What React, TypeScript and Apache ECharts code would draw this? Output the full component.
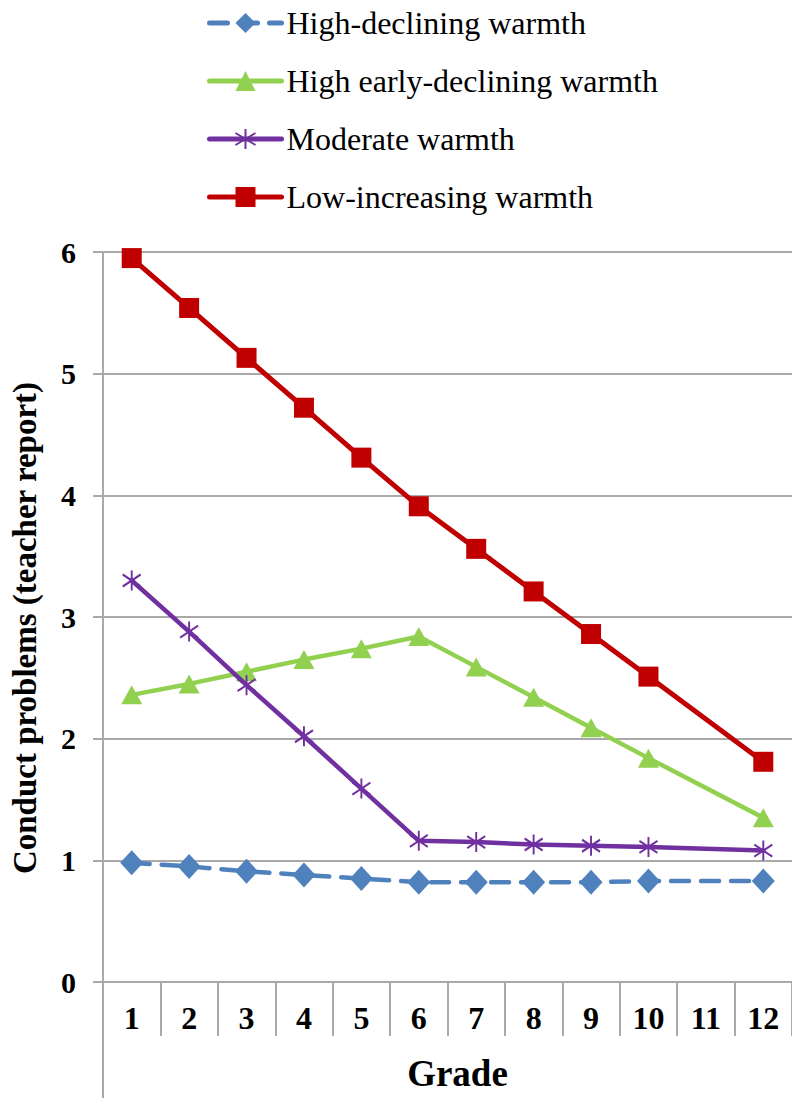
import React, { useEffect, useRef } from "react";
import * as echarts from "echarts";

const grades = ["1", "2", "3", "4", "5", "6", "7", "8", "9", "10", "11", "12"];
const highDeclining = [0.98, 0.95, 0.91, 0.88, 0.85, 0.82, 0.82, 0.82, 0.82, 0.83, null, 0.83];
const highEarlyDeclining = [2.36, 2.45, 2.55, 2.65, 2.74, 2.84, 2.59, 2.34, 2.09, 1.84, null, 1.35];
const moderate = [3.3, 2.88, 2.44, 2.02, 1.59, 1.16, 1.15, 1.13, 1.12, 1.11, null, 1.08];
const lowIncreasing = [5.95, 5.54, 5.13, 4.72, 4.31, 3.91, 3.56, 3.21, 2.86, 2.51, null, 1.81];
const seriesNames = [
  "High-declining warmth",
  "High early-declining warmth",
  "Moderate warmth",
  "Low-increasing warmth",
];

const FONT = "Liberation Serif";
const GRID_COLOR = "#A9A9A9";
const STAR = "path://M10,0L10,20M1.5,4L18.5,16M1.5,16L18.5,4";

export default function App() {
  const ref = useRef<HTMLDivElement>(null);
  useEffect(() => {
    document.body.style.margin = "0";
    const chart = echarts.init(ref.current!, null, { renderer: "svg" });
    chart.setOption({
      animation: false,
      backgroundColor: "#ffffff",
      legend: {
        orient: "vertical",
        left: 207,
        top: 7,
        padding: 0,
        itemWidth: 72,
        itemHeight: 25,
        itemGap: 26,
        lineStyle: { width: 5, cap: "round" },
        textStyle: { fontFamily: FONT, fontSize: 32, color: "#000" },
        data: seriesNames,
      },
      grid: { left: 103, top: 252, width: 696, height: 730, containLabel: false },
      xAxis: {
        type: "category",
        data: grades,
        boundaryGap: true,
        name: "Grade",
        nameLocation: "middle",
        nameGap: 73,
        nameTextStyle: { fontFamily: FONT, fontSize: 37, fontWeight: "bold", color: "#000", padding: [0, 0, 0, 20] },
        axisLine: { show: true, lineStyle: { color: GRID_COLOR, width: 2 } },
        axisTick: { show: true, length: 54, interval: 0, lineStyle: { color: GRID_COLOR, width: 2 } },
        axisLabel: { interval: 0, margin: 20, fontFamily: FONT, fontSize: 32, fontWeight: "bold", color: "#000" },
        splitLine: { show: false },
      },
      yAxis: {
        type: "value",
        min: 0,
        max: 6,
        interval: 1,
        name: "Conduct problems (teacher report)",
        nameLocation: "middle",
        nameGap: 62,
        nameRotate: 90,
        nameTextStyle: { fontFamily: FONT, fontSize: 33, fontWeight: "bold", color: "#000", padding: [0, 22, 0, 0] },
        axisLine: { show: true, lineStyle: { color: GRID_COLOR, width: 2 } },
        axisTick: { show: true, length: 10, lineStyle: { color: GRID_COLOR, width: 2 } },
        axisLabel: { margin: 27, fontFamily: FONT, fontSize: 30, fontWeight: "bold", color: "#000" },
        splitLine: { show: true, lineStyle: { color: GRID_COLOR, width: 2 } },
      },
      graphic: [
        {
          type: "line",
          shape: { x1: 103, y1: 982, x2: 103, y2: 1098 },
          style: { stroke: GRID_COLOR, lineWidth: 2 },
          z: 0,
        },
      ],
      series: [
        {
          name: seriesNames[0],
          type: "line",
          data: highDeclining,
          connectNulls: true,
          symbol: "diamond",
          symbolSize: [23, 25],
          color: "#4F81BD",
          itemStyle: { color: "#4F81BD" },
          lineStyle: { color: "#4F81BD", width: 4.5, type: [18, 12], cap: "round" },
          z: 2,
        },
        {
          name: seriesNames[1],
          type: "line",
          data: highEarlyDeclining,
          connectNulls: true,
          symbol: "triangle",
          symbolSize: [21, 19],
          color: "#92D050",
          itemStyle: { color: "#92D050" },
          lineStyle: { color: "#92D050", width: 4.5, cap: "round" },
          z: 3,
        },
        {
          name: seriesNames[2],
          type: "line",
          data: moderate,
          connectNulls: true,
          symbol: STAR,
          symbolSize: [18, 20],
          color: "#7030A0",
          itemStyle: { color: "#7030A0", borderColor: "#7030A0", borderWidth: 2 },
          lineStyle: { color: "#7030A0", width: 4.5, cap: "round" },
          z: 4,
        },
        {
          name: seriesNames[3],
          type: "line",
          data: lowIncreasing,
          connectNulls: true,
          symbol: "rect",
          symbolSize: 20,
          color: "#C00000",
          itemStyle: { color: "#C00000" },
          lineStyle: { color: "#C00000", width: 5, cap: "round" },
          z: 5,
        },
      ],
    });
    return () => chart.dispose();
  }, []);
  return <div ref={ref} style={{ width: 792, height: 1098 }} />;
}
